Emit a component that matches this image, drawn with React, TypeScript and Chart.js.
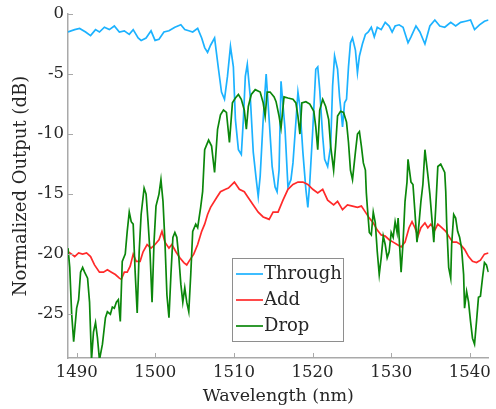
import React, { useEffect, useRef } from "react";
import { Chart, registerables } from "chart.js";

Chart.register(...registerables);

// ---- Data ----
const throughWl = [
  1488.9, 1488.99, 1489.75, 1490.38, 1491.14, 1491.77, 1492.4, 1492.9, 1493.53, 1494.16,
  1494.79, 1495.43, 1496.06, 1496.69, 1497.19, 1497.82, 1498.2, 1498.83, 1499.46, 1499.97,
  1500.47, 1501.1, 1501.74, 1502.49, 1503.25, 1503.75, 1504.26, 1504.76, 1505.39, 1505.9,
  1506.28, 1506.65, 1507.03, 1507.54, 1508.04, 1508.42, 1508.8, 1509.18, 1509.56, 1509.93,
  1510.19, 1510.57, 1510.94, 1511.2, 1511.45, 1511.7, 1512.08, 1512.46, 1512.84, 1513.09,
  1513.34, 1513.72, 1514.1, 1514.48, 1514.86, 1515.23, 1515.49, 1515.74, 1515.99, 1516.5,
  1516.87, 1517.25, 1517.51, 1517.88, 1518.14, 1518.39, 1518.77, 1519.15, 1519.4, 1519.65,
  1520.03, 1520.41, 1520.66, 1520.91, 1521.29, 1521.54, 1521.92, 1522.3, 1522.55, 1522.8,
  1523.18, 1523.43, 1523.69, 1523.81, 1524.07, 1524.32, 1524.57, 1524.82, 1525.08, 1525.45,
  1525.71, 1525.96, 1526.34, 1526.72, 1527.09, 1527.47, 1527.85, 1528.23, 1528.73, 1529.24,
  1529.74, 1530.12, 1530.5, 1531.01, 1531.51, 1532.14, 1532.52, 1533.15, 1533.65, 1534.29,
  1534.92, 1535.55, 1536.18, 1536.81, 1537.57, 1538.2, 1538.83, 1539.46, 1540.09, 1540.6,
  1541.23, 1541.86, 1542.36,
];
const throughDb = [
  -1.5, -1.5, -1.3, -1.2, -1.5, -1.8, -1.3, -1.5, -1.1, -1.3,
  -1.0, -1.5, -1.4, -1.7, -1.3, -2.0, -2.2, -2.0, -1.4, -2.2,
  -2.1, -1.5, -1.4, -1.1, -0.9, -1.3, -1.4, -1.5, -1.2, -2.0,
  -2.8, -3.2, -2.6, -2.0, -4.6, -6.5, -7.1, -5.2, -2.7, -4.4,
  -8.8, -11.3, -11.7, -8.8, -5.2, -4.2, -6.9, -11.5, -13.8, -15.2,
  -13.5, -8.8, -5.0, -8.8, -12.7, -14.4, -14.8, -13.0, -5.6, -9.6,
  -14.4, -13.8, -12.4, -9.0, -6.5, -7.7, -11.5, -14.6, -16.1, -14.0,
  -9.6, -4.6, -4.4, -6.3, -10.2, -12.1, -12.7, -11.0, -6.0, -3.5,
  -4.6, -6.9, -8.5, -9.4, -7.4, -7.1, -4.4, -2.4, -2.0, -3.0,
  -4.9, -3.5, -2.5, -1.7, -1.5, -1.1, -1.9, -1.1, -1.3, -0.7,
  -1.0, -1.5, -1.0, -0.9, -1.1, -2.4, -1.9, -1.0, -1.5, -2.5,
  -1.0, -0.5, -1.0, -1.1, -0.7, -1.0, -0.7, -0.6, -0.5, -1.3,
  -0.9, -0.6, -0.5,
];

const addWl = [
  1488.9, 1489.37, 1489.75, 1490.25, 1490.76, 1491.26, 1491.77, 1492.27, 1492.9, 1493.41,
  1493.91, 1494.42, 1494.92, 1495.43, 1495.68, 1496.06, 1496.43, 1496.81, 1497.19, 1497.57,
  1498.07, 1498.45, 1498.96, 1499.46, 1499.97, 1500.47, 1500.85, 1501.23, 1501.74, 1502.11,
  1502.62, 1503.12, 1503.63, 1504.0, 1504.38, 1504.89, 1505.39, 1505.9, 1506.28, 1506.65,
  1507.03, 1507.79, 1508.29, 1508.93, 1509.3, 1510.06, 1510.69, 1511.32, 1511.83, 1512.46,
  1513.09, 1513.72, 1514.1, 1514.48, 1514.98, 1515.61, 1516.24, 1516.87, 1517.51, 1518.14,
  1518.77, 1519.4, 1520.03, 1520.66, 1521.29, 1521.92, 1522.68, 1523.18, 1523.81, 1524.44,
  1525.08, 1525.71, 1526.21, 1526.72, 1527.22, 1527.72, 1528.23, 1528.73, 1529.24, 1529.74,
  1530.25, 1530.75, 1531.26, 1531.76, 1532.27, 1532.65, 1533.02, 1533.4, 1533.78, 1534.29,
  1534.66, 1535.04, 1535.55, 1535.93, 1536.43, 1536.94, 1537.31, 1537.82, 1538.32, 1538.83,
  1539.33, 1539.84, 1540.34, 1540.85, 1541.35, 1541.86, 1542.36,
];
const addDb = [
  -19.8, -20.0, -20.2, -19.9, -20.0, -19.9, -20.2, -20.9, -21.5, -21.5,
  -21.3, -21.5, -21.7, -22.0, -22.1, -21.5, -21.5, -21.0, -20.0, -20.6,
  -20.6, -19.8, -19.2, -19.5, -19.2, -18.8, -18.1, -19.0, -19.5, -19.2,
  -19.8, -20.3, -20.7, -20.9, -20.5, -20.0, -19.2, -18.1, -17.5, -16.7,
  -16.1, -15.3, -14.8, -14.6, -14.5, -14.0, -14.6, -14.8, -15.3, -15.9,
  -16.5, -16.9, -17.0, -17.1, -16.5, -16.5, -15.5, -14.6, -14.2, -14.0,
  -14.0, -14.2, -14.6, -14.9, -14.6, -15.5, -15.9, -15.6, -16.3, -15.9,
  -16.0, -16.1, -16.0, -16.5, -17.0, -17.4, -18.0, -18.4, -18.5, -18.8,
  -19.0, -19.2, -19.4, -19.0, -17.8, -17.3, -17.8, -18.5, -17.8, -17.4,
  -17.8, -17.5, -18.0, -17.5, -17.8, -18.1, -18.5, -19.0, -19.0, -19.2,
  -19.6, -20.2, -20.6, -20.7, -20.5, -20.0, -19.9,
];

const dropWl = [
  1488.9, 1489.12, 1489.37, 1489.62, 1490.0, 1490.25, 1490.5, 1490.76, 1491.01, 1491.39,
  1491.64, 1491.89, 1492.14, 1492.4, 1492.65, 1492.9, 1493.28, 1493.66, 1493.91, 1494.29,
  1494.54, 1494.79, 1495.05, 1495.3, 1495.55, 1495.8, 1496.18, 1496.43, 1496.69, 1496.94,
  1497.19, 1497.44, 1497.7, 1497.95, 1498.2, 1498.58, 1498.83, 1499.08, 1499.34, 1499.59,
  1499.84, 1500.09, 1500.47, 1500.72, 1500.98, 1501.23, 1501.48, 1501.74, 1501.99, 1502.24,
  1502.49, 1502.74, 1503.0, 1503.25, 1503.5, 1503.75, 1504.0, 1504.26, 1504.51, 1504.76,
  1505.14, 1505.39, 1505.77, 1506.02, 1506.28, 1506.53, 1506.78, 1507.16, 1507.54, 1507.92,
  1508.29, 1508.67, 1509.05, 1509.43, 1509.81, 1510.19, 1510.57, 1510.94, 1511.32, 1511.58,
  1511.83, 1512.21, 1512.71, 1513.34, 1513.72, 1513.97, 1514.23, 1514.6, 1515.11, 1515.36,
  1515.74, 1515.99, 1516.37, 1516.87, 1517.51, 1517.88, 1518.14, 1518.39, 1518.64, 1519.15,
  1519.65, 1520.16, 1520.41, 1520.66, 1520.91, 1521.29, 1521.67, 1522.05, 1522.3, 1522.68,
  1522.93, 1523.18, 1523.56, 1523.94, 1524.32, 1524.57, 1524.82, 1525.08, 1525.45, 1525.71,
  1525.96, 1526.21, 1526.46, 1526.72, 1526.84, 1526.97, 1527.22, 1527.47, 1527.72, 1527.98,
  1528.23, 1528.48, 1528.73, 1528.99, 1529.24, 1529.49, 1529.74, 1530.0, 1530.25, 1530.5,
  1530.75, 1530.88, 1531.13, 1531.26, 1531.51, 1531.76, 1532.01, 1532.14, 1532.52, 1532.77,
  1533.02, 1533.28, 1533.53, 1533.78, 1534.03, 1534.29, 1534.66, 1534.92, 1535.17, 1535.42,
  1535.67, 1535.93, 1536.3, 1536.81, 1536.94, 1537.06, 1537.31, 1537.57, 1537.69, 1537.95,
  1538.2, 1538.45, 1538.7, 1538.95, 1539.21, 1539.33, 1539.59, 1539.84, 1540.09, 1540.34,
  1540.6, 1540.85, 1541.1, 1541.35, 1541.61, 1541.86, 1542.11, 1542.36,
];
const dropDb = [
  -19.5, -21.1, -25.0, -27.3, -24.5, -23.8, -21.5, -21.1, -21.5, -22.0,
  -24.0, -28.8, -26.5, -25.7, -27.0, -28.8, -27.5, -25.3, -24.8, -25.0,
  -24.4, -24.5, -24.0, -23.8, -25.6, -20.6, -20.0, -18.1, -16.5, -17.3,
  -17.5, -21.5, -24.9, -19.8, -16.7, -14.5, -15.0, -17.3, -20.0, -24.0,
  -19.0, -16.0, -15.0, -13.8, -15.6, -19.0, -23.4, -25.3, -21.7, -18.6,
  -18.2, -18.6, -20.3, -22.5, -24.0, -22.8, -24.0, -24.8, -21.7, -18.1,
  -17.5, -17.8, -16.1, -14.8, -11.3, -10.9, -10.5, -11.0, -13.2, -9.6,
  -8.4, -8.0, -8.2, -10.7, -7.4, -7.0, -6.7, -7.1, -8.0, -9.6,
  -7.7, -6.7, -6.3, -6.5, -7.4, -8.5, -6.5, -6.5, -6.9, -7.3,
  -8.5, -9.5, -6.9, -7.0, -7.1, -7.4, -8.5, -10.0, -7.4, -7.3,
  -7.5, -8.1, -9.4, -11.3, -8.0, -7.1, -7.7, -8.8, -11.0, -13.0,
  -11.0, -8.5, -8.1, -8.2, -9.0, -10.7, -13.0, -13.8, -11.5, -10.0,
  -9.8, -11.0, -12.4, -13.0, -14.9, -16.1, -18.2, -18.4, -16.5, -17.4,
  -19.8, -21.7, -20.3, -18.5, -19.2, -20.3, -19.8, -18.2, -18.6, -17.3,
  -18.2, -17.0, -20.0, -21.5, -19.0, -15.6, -14.0, -12.1, -14.0, -14.2,
  -16.5, -19.0, -17.5, -15.6, -14.2, -11.3, -13.4, -15.0, -17.0, -19.0,
  -16.1, -12.7, -12.5, -13.2, -14.8, -17.5, -21.1, -22.0, -19.2, -16.7,
  -17.0, -18.1, -18.6, -19.5, -21.7, -24.5, -23.1, -24.0, -25.6, -27.0,
  -27.5, -25.6, -23.6, -23.5, -22.0, -20.7, -20.9, -21.5,
];

const seriesLabels = ["Through", "Add", "Drop"];
const seriesColors = ["#1cb2ff", "#ff2a2a", "#0b870b"];
const xTickValues = [1490, 1500, 1510, 1520, 1530, 1540];
const yTickValues = [-25, -20, -15, -10, -5, 0];
const xRange = [1488.9, 1542.4];
const yRange = [-28.65, 0];

const FONT = "'DejaVu Serif', 'Liberation Serif', serif";
const AXIS_COLOR = "#a9a9a9";
const TEXT_COLOR = "#262626";

function zip(xs: number[], ys: number[]) {
  return xs.map((x, i) => ({ x, y: ys[i] }));
}

// Inward tick marks (MATLAB style), drawn at scale tick positions
const innerTicks = {
  id: "innerTicks",
  afterDraw(chart: any) {
    const { ctx, chartArea, scales } = chart;
    ctx.save();
    ctx.strokeStyle = AXIS_COLOR;
    ctx.lineWidth = 1;
    ctx.beginPath();
    scales.x.ticks.forEach((t: any) => {
      const px = Math.round(scales.x.getPixelForValue(t.value)) + 0.5;
      ctx.moveTo(px, chartArea.bottom);
      ctx.lineTo(px, chartArea.bottom - 5);
    });
    scales.y.ticks.forEach((t: any) => {
      const py = Math.round(scales.y.getPixelForValue(t.value)) + 0.5;
      ctx.moveTo(chartArea.left, py);
      ctx.lineTo(chartArea.left + 5, py);
    });
    ctx.stroke();
    ctx.restore();
  },
};

// Boxed legend inside the plot area
const boxLegend = {
  id: "boxLegend",
  afterDraw(chart: any) {
    const { ctx, chartArea } = chart;
    const left = chartArea.left + 164;
    const top = chartArea.top + 244;
    const w = 111;
    const h = 83;
    ctx.save();
    ctx.fillStyle = "#ffffff";
    ctx.fillRect(left, top, w, h);
    ctx.strokeStyle = "#8e8e8e";
    ctx.lineWidth = 1;
    ctx.strokeRect(left + 0.5, top + 0.5, w, h);
    chart.data.datasets.forEach((ds: any, i: number) => {
      const y = top + 16 + i * 26;
      ctx.strokeStyle = ds.borderColor;
      ctx.lineWidth = 1.7;
      ctx.beginPath();
      ctx.moveTo(left + 4, y);
      ctx.lineTo(left + 31, y);
      ctx.stroke();
      ctx.fillStyle = TEXT_COLOR;
      ctx.font = `18px ${FONT}`;
      ctx.textBaseline = "middle";
      ctx.textAlign = "left";
      ctx.fillText(ds.label, left + 32, y);
    });
    ctx.restore();
  },
};

export default function App() {
  const canvasRef = useRef<HTMLCanvasElement | null>(null);

  useEffect(() => {
    if (!canvasRef.current) return;
    const series = [zip(throughWl, throughDb), zip(addWl, addDb), zip(dropWl, dropDb)];
    const chart = new Chart(canvasRef.current, {
      type: "line",
      data: {
        datasets: series.map((data, i) => ({
          label: seriesLabels[i],
          data,
          borderColor: seriesColors[i],
          backgroundColor: seriesColors[i],
          borderWidth: 1.7,
          pointRadius: 0,
          tension: 0,
          fill: false,
          order: 3 - i,
        })),
      },
      options: {
        animation: false,
        responsive: false,
        layout: { padding: { left: 0, right: 4, top: 14, bottom: 0 } },
        plugins: {
          legend: { display: false },
          tooltip: { enabled: false },
        },
        scales: {
          x: {
            type: "linear",
            min: xRange[0],
            max: xRange[1],
            afterFit: (s: any) => {
              s.height = 51;
            },
            afterBuildTicks: (s: any) => {
              s.ticks = xTickValues.map((v) => ({ value: v }));
            },
            grid: { display: false, drawTicks: false },
            border: { display: true, color: AXIS_COLOR, width: 1.5 },
            ticks: {
              autoSkip: false,
              maxRotation: 0,
              padding: 5,
              color: TEXT_COLOR,
              font: { family: FONT, size: 16.5 },
              callback: (v: any) => String(v),
            },
            title: {
              display: true,
              text: "Wavelength (nm)",
              color: TEXT_COLOR,
              font: { family: FONT, size: 17.5 },
              padding: { top: 0, bottom: 2 },
            },
          },
          y: {
            type: "linear",
            min: yRange[0],
            max: yRange[1],
            afterFit: (s: any) => {
              s.width = 68;
            },
            afterBuildTicks: (s: any) => {
              s.ticks = yTickValues.map((v) => ({ value: v }));
            },
            grid: { display: false, drawTicks: false },
            border: { display: true, color: AXIS_COLOR, width: 1.5 },
            ticks: {
              autoSkip: false,
              padding: 4,
              color: TEXT_COLOR,
              font: { family: FONT, size: 16.5 },
              callback: (v: any) => String(v),
            },
            title: {
              display: true,
              text: "Normalized Output (dB)",
              color: TEXT_COLOR,
              font: { family: FONT, size: 18 },
              padding: { top: 11, bottom: 0 },
            },
          },
        },
      },
      plugins: [innerTicks, boxLegend],
    } as any);
    return () => chart.destroy();
  }, []);

  return (
    <div style={{ position: "fixed", left: 0, top: 0, width: 496, height: 409, background: "#fff" }}>
      <canvas ref={canvasRef} width={496} height={409} style={{ display: "block" }} />
    </div>
  );
}
